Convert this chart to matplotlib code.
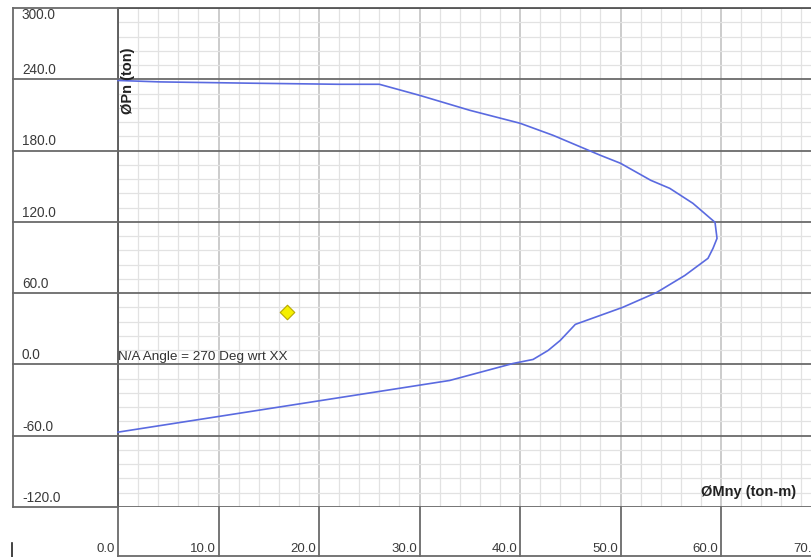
import numpy as np
import matplotlib
matplotlib.use("Agg")
import matplotlib.pyplot as plt
import matplotlib.transforms as mtransforms
from matplotlib.lines import Line2D

plt.rcParams['font.family'] = ['Liberation Sans', 'DejaVu Sans']

# Interaction curve data (phiMny [ton-m], phiPn [ton])
mny = [0.0, 4.2, 13.3, 21.9, 26.0, 30.0, 35.0, 40.0, 43.3, 48.0, 50.0, 53.0, 54.9,
       57.2, 59.4, 59.6, 59.2, 58.7, 56.4, 53.6, 50.2, 48.0, 45.5, 44.0, 42.8,
       41.3, 39.3, 33.0, 0.0]
pn = [239.0, 237.8, 236.7, 235.8, 235.8, 226.5, 213.9, 203.0, 192.8, 176.0, 169.3,
      155.0, 148.2, 135.6, 119.6, 106.1, 97.7, 89.3, 74.9, 60.6, 48.0, 41.3, 33.7,
      20.2, 11.8, 4.2, 0.8, -13.5, -57.0]

# Applied load point
load_m = [16.8]
load_p = [44.0]

xticks = [0, 10, 20, 30, 40, 50, 60, 70]
yticks = [300, 240, 180, 120, 60, 0, -60, -120]
xlabels = ["0.0", "10.0", "20.0", "30.0", "40.0", "50.0", "60.0", "70.0"]
ylabels = ["300.0", "240.0", "180.0", "120.0", "60.0", "0.0", "-60.0", "-120.0"]

W, H = 812, 557
fig = plt.figure(figsize=(W / 100, H / 100), dpi=100)
fig.patch.set_facecolor('white')

L, R, T, B = 118, 812, 8, 507
ax = fig.add_axes([L / W, (H - B) / H, (R - L) / W, (B - T) / H])

# grid
ax.set_xticks(xticks)
ax.set_yticks(yticks)
ax.set_xticks(np.arange(0, 70, 2), minor=True)
ax.set_yticks(np.arange(-120, 301, 12), minor=True)
ax.set_xlim(0, 69.05)
ax.set_ylim(-120, 300)
ax.tick_params(which='both', length=0, labelbottom=False, labelleft=False)
ax.grid(which='minor', color='#e2e2e2', linewidth=0.9)
ax.grid(which='major', axis='x', color='#c4c4c4', linewidth=1.2)
ax.set_axisbelow(True)
for yv in yticks:
    ax.axhline(yv, color='#6a6a6a', linewidth=1.3, zorder=1.5)
for s in ['right', 'bottom']:
    ax.spines[s].set_visible(False)
ax.spines['left'].set_color('#555555')
ax.spines['top'].set_color('#555555')
ax.spines['left'].set_linewidth(1.3)
ax.spines['top'].set_linewidth(1.3)

# left label panel
ty = mtransforms.blended_transform_factory(fig.transFigure, ax.transData)
tx = mtransforms.blended_transform_factory(ax.transData, fig.transFigure)
for yv, lab in zip(yticks, ylabels):
    fig.add_artist(Line2D([13 / W, L / W], [yv, yv], transform=ty,
                          color='#6a6a6a', linewidth=1.3))
    if yv == 300:
        fig.text(22 / W, yv, lab, transform=ty, ha='left', va='top',
                 fontsize=9.8, color='#3a3a3a')
    else:
        ax.annotate(lab, xy=(22 / W, yv), xycoords=ty, xytext=(0, 1.5),
                    textcoords='offset points', ha='left', va='bottom',
                    fontsize=9.8, color='#3a3a3a')
fig.add_artist(Line2D([13 / W, 13 / W], [300, -120], transform=ty,
                      color='#6a6a6a', linewidth=1.3))

# bottom label panel
for xv, lab in zip(xticks, xlabels):
    fig.add_artist(Line2D([xv, xv], [0, (H - B) / H], transform=tx,
                          color='#6a6a6a', linewidth=1.3))
    ax.annotate(lab, xy=(xv, 8 / H), xycoords=tx, xytext=(-2.0, 0),
                textcoords='offset points', ha='right', va='center',
                fontsize=9.5, color='#3a3a3a')
fig.add_artist(Line2D([L / W, 1], [1 / H, 1 / H], transform=fig.transFigure,
                      color='#6a6a6a', linewidth=1.3))
fig.add_artist(Line2D([12 / W, 12 / W], [0, 14 / H], transform=fig.transFigure,
                      color='#222222', linewidth=1.2))

# curve and load point
ax.plot(mny, pn, color='#5a6ae0', linewidth=1.2, zorder=3, clip_on=False)
ax.scatter(load_m, load_p, marker='D', s=55, facecolor='#f5f000',
           edgecolor='#b8a800', linewidth=0.8, zorder=4)

ax.text(0, 1.5, "N/A Angle = 270 Deg wrt XX", ha='left', va='bottom',
        fontsize=9.7, color='#333333', zorder=5)
ax.text(0.95, 239, "ØPn (ton)", rotation=90, ha='center', va='center',
        fontsize=10.5, fontweight='bold', color='#222222', zorder=5)
ax.text(62.7, -107, "ØMny (ton-m)", ha='center', va='center',
        fontsize=10.5, fontweight='bold', color='#222222', zorder=5)

fig.savefig('out.png', dpi=100, facecolor='white')
